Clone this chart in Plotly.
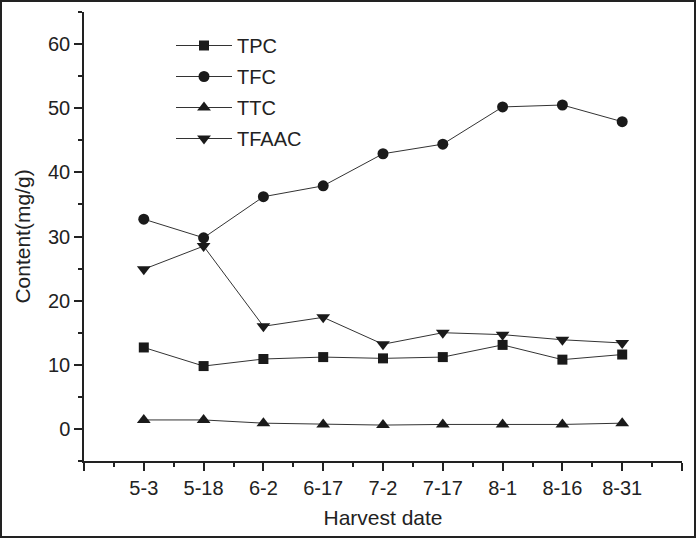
import plotly.graph_objects as go

dates = ["5-3", "5-18", "6-2", "6-17", "7-2", "7-17", "8-1", "8-16", "8-31"]
tpc = [12.7, 9.8, 10.9, 11.2, 11.0, 11.2, 13.1, 10.8, 11.6]
tfc = [32.7, 29.8, 36.2, 37.9, 42.9, 44.4, 50.2, 50.5, 47.9]
ttc = [1.4, 1.4, 0.9, 0.7, 0.6, 0.7, 0.7, 0.7, 0.9]
tfaac = [24.9, 28.5, 16.0, 17.4, 13.2, 15.0, 14.7, 13.9, 13.4]

series = [
    ("TPC", tpc, "square", 10),
    ("TFC", tfc, "circle", 11),
    ("TTC", ttc, "triangle-up", 12),
    ("TFAAC", tfaac, "triangle-down", 12),
]

xpos = list(range(len(dates)))
font = "Liberation Sans, Arial, sans-serif"
ink = "#222222"
fs = 20
fst = 21

fig = go.Figure()
for name, vals, sym, sz in series:
    fig.add_trace(go.Scatter(
        x=xpos, y=vals, name=name, mode="lines+markers",
        legendgroup=name,
        line=dict(color="#333333", width=1),
        marker=dict(symbol=sym, size=sz, color="#1a1a1a", line=dict(width=0)),
    ))

L, R, T, B = 84, 14, 12, 77
W, H = 696, 538
pw, ph = W - L - R, H - T - B

fig.update_layout(
    width=W, height=H,
    margin=dict(l=L, r=R, t=T, b=B, pad=0, autoexpand=False),
    paper_bgcolor="white", plot_bgcolor="white",
    font=dict(family=font, size=fs, color=ink),
    showlegend=True,
    legend=dict(
        x=(171 - L) / pw, y=1 - (26 - T) / ph, xanchor="left", yanchor="top",
        bgcolor="rgba(0,0,0,0)", font=dict(size=fs, color=ink),
        tracegroupgap=2, itemwidth=56, traceorder="grouped",
    ),
    xaxis=dict(
        range=[-1, 9], tickmode="array", automargin=False,
        tickvals=list(range(-1, 10)),
        ticktext=[""] + dates + [""],
        showline=True, linecolor=ink, linewidth=1.5,
        ticks="outside", ticklen=8, tickwidth=1.5, tickcolor=ink,
        showgrid=False, zeroline=False,
        minor=dict(tickvals=[i + 0.5 for i in range(-1, 9)], ticks="outside",
                   ticklen=4, tickwidth=1.5, tickcolor=ink, showgrid=False),
        title=dict(text="Harvest date", font=dict(size=fst, color=ink), standoff=13),
        tickfont=dict(size=fs, color=ink),
    ),
    yaxis=dict(
        range=[-5, 65], tickmode="linear", tick0=0, dtick=10, automargin=False,
        showline=True, linecolor=ink, linewidth=1.5,
        ticks="outside", ticklen=8, tickwidth=1.5, tickcolor=ink,
        showgrid=False, zeroline=False,
        minor=dict(tick0=5, dtick=10, ticks="outside", ticklen=4,
                   tickwidth=1.5, tickcolor=ink, showgrid=False),
        title=dict(text="Content(mg/g)", font=dict(size=fst, color=ink), standoff=12),
        tickfont=dict(size=fs, color=ink),
    ),
)

# outer frame around the whole image
fig.add_shape(
    type="rect", xref="paper", yref="paper", layer="above",
    x0=(1 - L) / pw, x1=(W - 1 - L) / pw,
    y0=-(H - 1 - (T + ph)) / ph, y1=1 + (T - 1) / ph,
    line=dict(color="#222222", width=2), fillcolor="rgba(0,0,0,0)",
)

fig.write_html("out.html", config={"displayModeBar": False},
               post_script="document.body.style.margin='0';document.body.style.overflow='hidden';")
